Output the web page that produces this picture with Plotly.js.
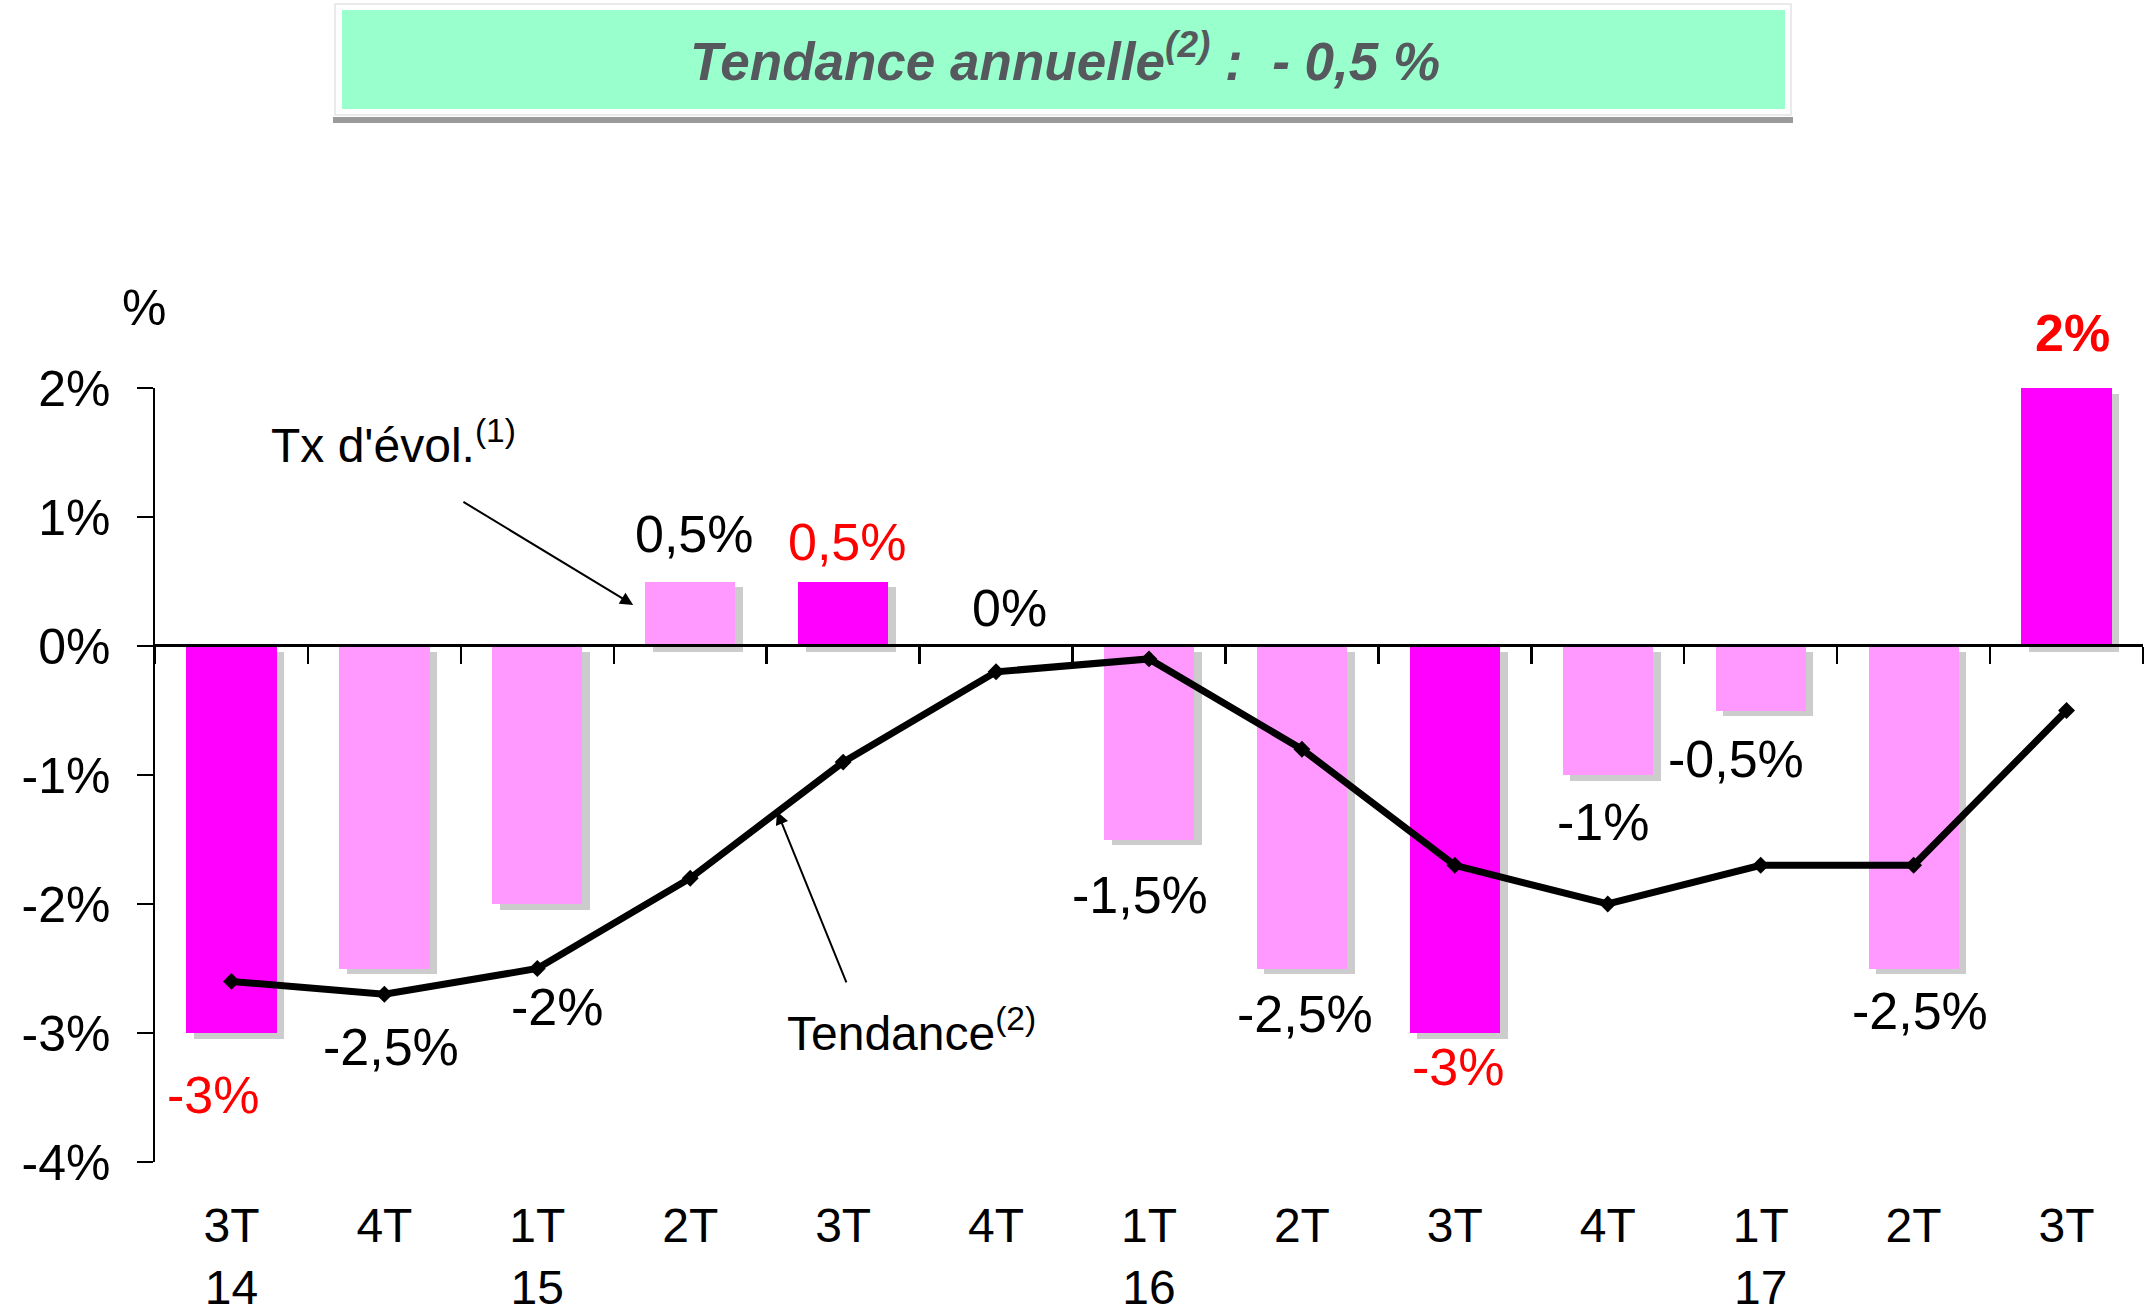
<!DOCTYPE html>
<html>
<head>
<meta charset="utf-8">
<script src="https://cdn.plot.ly/plotly-3.0.1.min.js"></script>
<style>html,body{margin:0;padding:0;background:#fff;}#chart{width:2147px;height:1316px;}</style>
</head>
<body>
<div id="chart"></div>
<script>
// ---- data ----
const categories = ['3T<br>14','4T','1T<br>15','2T','3T','4T','1T<br>16','2T','3T','4T','1T<br>17','2T','3T'];
const evolution = [-3, -2.5, -2, 0.5, 0.5, 0, -1.5, -2.5, -3, -1, -0.5, -2.5, 2];
const tendance = [-2.6, -2.7, -2.5, -1.8, -0.9, -0.2, -0.1, -0.8, -1.7, -2.0, -1.7, -1.7, -0.5];
const evolutionLabels = ['-3%','-2,5%','-2%','0,5%','0,5%','0%','-1,5%','-2,5%','-3%','-1%','-0,5%','-2,5%','2%'];
const isThirdQuarter = [true,false,false,false,true,false,false,false,true,false,false,false,true];
const yTickValues = [-4, -3, -2, -1, 0, 1, 2];
const yTickLabels = ['-4%','-3%','-2%','-1%','0%','1%','2%'];
const titleText = '<b><i>Tendance annuelle<sup>(2)</sup> :&nbsp;&nbsp;- 0,5 %</i></b>';

// ---- styles / layout positions ----
const W = 2147, H = 1316;
const M = {l: 155, r: 4, t: 388, b: 154};
const FONT = 'Liberation Sans, Arial, sans-serif';
const PINK = '#ff99ff', MAGENTA = '#ff00ff';
const labelDx = [-0.12, 0.04, 0.13, 0.03, 0.03, 0.09, -0.06, 0.02, 0.02, -0.03, -0.16, 0.04, 0.04];
const labelDy = [-62, -78, -103, 48, 40, 38, -55, -45, -34, -47, -48, -42, 55];

const idx = categories.map((_, i) => i);
const pxX = px => (px - M.l) / (W - M.l - M.r);
const pxY = py => (H - M.b - py) / (H - M.t - M.b);

const barColors = isThirdQuarter.map(h => h ? MAGENTA : PINK);

const traces = [
  { // soft shadow behind the bars
    type: 'bar', x: idx, y: evolution, base: -0.045, width: 0.59, offset: -0.295 + 0.05,
    marker: {color: 'rgba(110,110,110,0.35)', line: {width: 0}},
    hoverinfo: 'skip', showlegend: false
  },
  {
    type: 'bar', x: idx, y: evolution, width: 0.59, offset: -0.295,
    marker: {color: barColors, line: {width: 0}},
    name: "Tx d'évol.", showlegend: false
  },
  {
    type: 'scatter', mode: 'lines+markers', x: idx, y: tendance,
    line: {color: '#000', width: 7},
    marker: {symbol: 'diamond', size: 13, color: '#000'},
    name: 'Tendance', showlegend: false
  },
  { // carrier for the zero-line axis with boundary ticks
    type: 'scatter', x: idx, y: evolution, xaxis: 'x2', mode: 'none',
    hoverinfo: 'skip', showlegend: false
  }
];

const annotations = [];
evolution.forEach((v, i) => {
  const red = isThirdQuarter[i];
  annotations.push({
    x: i + labelDx[i], y: v, xref: 'x', yref: 'y',
    text: (i === categories.length - 1) ? '<b>' + evolutionLabels[i] + '</b>' : evolutionLabels[i],
    showarrow: false, yanchor: 'middle', xanchor: 'center', yshift: labelDy[i],
    font: {family: FONT, size: 52, color: red ? '#ff0000' : '#000000'}
  });
});
// "%" unit label
annotations.push({x: pxX(144), y: pxY(308), xref: 'paper', yref: 'paper', text: '%', showarrow: false,
  xanchor: 'center', yanchor: 'middle', font: {family: FONT, size: 50, color: '#000'}});
// Tx d'évol. callout
annotations.push({x: 1.06, y: 1.58, xref: 'x', yref: 'y', text: "Tx d'évol.<sup>(1)</sup>", showarrow: false,
  xanchor: 'center', yanchor: 'middle', font: {family: FONT, size: 48, color: '#000'}});
annotations.push({x: 2.627, y: 0.318, xref: 'x', yref: 'y', ax: 1.507, ay: 1.124, axref: 'x', ayref: 'y',
  text: '', showarrow: true, arrowhead: 2, arrowsize: 1.3, arrowwidth: 2, arrowcolor: '#000'});
// Tendance callout
annotations.push({x: 4.446, y: -2.98, xref: 'x', yref: 'y', text: 'Tendance<sup>(2)</sup>', showarrow: false,
  xanchor: 'center', yanchor: 'middle', font: {family: FONT, size: 48, color: '#000'}});
annotations.push({x: 3.568, y: -1.283, xref: 'x', yref: 'y', ax: 4.025, ay: -2.62, axref: 'x', ayref: 'y',
  text: '', showarrow: true, arrowhead: 2, arrowsize: 1.3, arrowwidth: 2, arrowcolor: '#000'});

const shapes = [
  // title box outer faint frame
  {type: 'rect', xref: 'paper', yref: 'paper', x0: pxX(335), x1: pxX(1791), y0: pxY(115), y1: pxY(4),
   fillcolor: '#ffffff', line: {color: '#e4e4e4', width: 1.5}, layer: 'below'},
  // grey bottom bar
  {type: 'rect', xref: 'paper', yref: 'paper', x0: pxX(333), x1: pxX(1793), y0: pxY(123), y1: pxY(117),
   fillcolor: '#9a9a9a', line: {width: 0}, layer: 'below'},
  // green fill
  {type: 'rect', xref: 'paper', yref: 'paper', x0: pxX(342), x1: pxX(1785), y0: pxY(109), y1: pxY(10),
   fillcolor: '#99ffcc', line: {width: 0}, layer: 'below'}
];

const boundaries = [];
for (let i = 0; i <= categories.length; i++) boundaries.push(i - 0.5);

const layout = {
  width: W, height: H,
  margin: M,
  paper_bgcolor: '#fff', plot_bgcolor: 'rgba(0,0,0,0)',
  title: {text: titleText, x: 1065 / W, xanchor: 'center', xref: 'container',
          y: 1 - 61 / H, yanchor: 'middle', yref: 'container',
          font: {family: FONT, size: 53, color: '#55595e'}},
  bargap: 0, barmode: 'overlay',
  showlegend: false,
  font: {family: FONT, color: '#000'},
  xaxis: {
    range: [-0.5, categories.length - 0.5], tickvals: idx, ticktext: categories,
    showline: false, showgrid: false, zeroline: false,
    ticks: 'outside', ticklen: 21, tickcolor: 'rgba(0,0,0,0)',
    tickfont: {family: FONT, size: 48, color: '#000'}, fixedrange: true
  },
  xaxis2: {
    overlaying: 'x', matches: 'x', anchor: 'free', position: pxY(645), side: 'bottom',
    range: [-0.5, categories.length - 0.5], tickvals: boundaries, showticklabels: false,
    showline: true, linecolor: '#000', linewidth: 2.5,
    ticks: 'outside', ticklen: 17, tickwidth: 2.5, tickcolor: '#000',
    showgrid: false, zeroline: false, fixedrange: true
  },
  yaxis: {
    range: [-4, 2], tickvals: yTickValues, ticktext: yTickLabels,
    showline: true, linecolor: '#000', linewidth: 2.5,
    ticks: 'outside', ticklen: 16, tickwidth: 2.5, tickcolor: '#000',
    ticklabelstandoff: 16,
    showgrid: false, zeroline: false,
    tickfont: {family: FONT, size: 50, color: '#000'}, fixedrange: true
  },
  shapes: shapes,
  annotations: annotations
};

Plotly.newPlot('chart', traces, layout, {displayModeBar: false, staticPlot: true});
</script>
</body>
</html>
